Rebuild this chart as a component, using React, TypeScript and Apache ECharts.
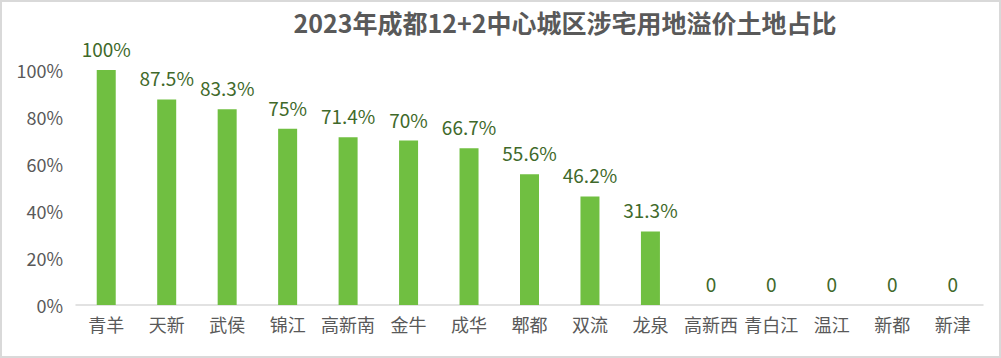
import React, { useEffect, useRef } from "react";
import * as echarts from "echarts";

const categories = ["青羊", "天新", "武侯", "锦江", "高新南", "金牛", "成华", "郫都", "双流", "龙泉", "高新西", "青白江", "温江", "新都", "新津"];
const values = [100, 87.5, 83.3, 75, 71.4, 70, 66.7, 55.6, 46.2, 31.3, 0, 0, 0, 0, 0];
const titleText = "2023年成都12+2中心城区涉宅用地溢价土地占比";

const FONT = "'Noto Sans CJK SC', 'Noto Sans', sans-serif";

export default function App() {
  const ref = useRef<HTMLDivElement>(null);
  useEffect(() => {
    document.body.style.margin = "0";
    const chart = echarts.init(ref.current!, null, { renderer: "svg" });
    chart.setOption({
      animation: false,
      backgroundColor: "#ffffff",
      textStyle: { fontFamily: FONT },
      title: {
        text: titleText,
        left: 558,
        top: 2,
        textAlign: "center",
        textStyle: { fontSize: 25, fontWeight: "bold", color: "#595959", fontFamily: FONT },
      },
      grid: { left: 74, right: 16, top: 68, bottom: 51, containLabel: false },
      xAxis: {
        type: "category",
        data: categories,
        axisLine: { lineStyle: { color: "#d9d9d9", width: 1.5 } },
        axisTick: { show: false },
        axisLabel: { color: "#595959", fontSize: 18, margin: 10, fontFamily: FONT, interval: 0 },
      },
      yAxis: {
        type: "value",
        min: 0,
        max: 100,
        interval: 20,
        splitLine: { show: false },
        axisLine: { show: false },
        axisTick: { show: false },
        axisLabel: { color: "#595959", fontSize: 18, margin: 13, formatter: "{value}%", fontFamily: FONT },
      },
      series: [
        {
          type: "bar",
          data: values,
          barWidth: 19,
          itemStyle: { color: "#70bf41" },
          label: {
            show: true,
            position: "top",
            distance: 12,
            color: "#40692a",
            fontSize: 19,
            fontFamily: FONT,
            formatter: (p: any) => (p.value === 0 ? "0" : p.value + "%"),
          },
        },
      ],
    });
    return () => chart.dispose();
  }, []);
  return (
    <div
      style={{
        position: "absolute",
        left: 0,
        top: 0,
        width: 1001,
        height: 358,
        boxSizing: "border-box",
        border: "2px solid #d9d9d9",
        background: "#fff",
      }}
    >
      <div ref={ref} style={{ width: 997, height: 354 }} />
    </div>
  );
}
